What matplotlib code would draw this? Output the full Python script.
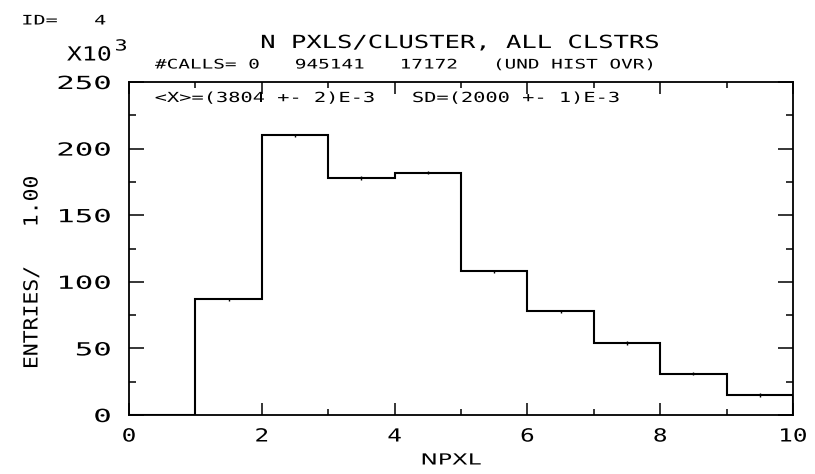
import matplotlib
matplotlib.use("Agg")
import matplotlib.pyplot as plt
import numpy as np
from matplotlib.patheffects import AbstractPathEffect
from matplotlib.transforms import Affine2D
from matplotlib.path import Path

# histogram contents (x10^3 entries per bin)
edges = [0, 1, 2, 3, 4, 5, 6, 7, 8, 9, 10]
counts = [0, 87, 210, 178, 182, 108, 78, 54, 31, 15]

title = "N PXLS/CLUSTER, ALL CLSTRS"
calls_line = "#CALLS= 0   945141   17172   (UND HIST OVR)"
stats_line = "<X>=(3804 +- 2)E-3   SD=(2000 +- 1)E-3"


class Stretch(AbstractPathEffect):
    # widen glyphs along the text direction, like the old stroke font
    def __init__(self, sx=1.0, width=None, anchor="left"):
        super().__init__()
        self.sx = sx
        self.width = width
        self.anchor = anchor

    def draw_path(self, renderer, gc, tpath, affine, rgbFace=None):
        v = tpath.vertices
        if tpath.codes is not None:
            v = v[tpath.codes != Path.CLOSEPOLY]
        x0, x1 = v[:, 0].min(), v[:, 0].max()
        sx = self.sx
        if self.width is not None:
            m = affine.get_matrix()
            sc = np.hypot(m[0, 0], m[1, 0])
            sx = self.width / ((x1 - x0) * sc)
        cx = {"left": x0, "center": (x0 + x1) / 2, "right": x1}[self.anchor]
        t = Affine2D().translate(-cx, 0).scale(sx, 1).translate(cx, 0) + affine
        renderer.draw_path(gc, tpath, t, rgbFace)


plt.rcParams["font.family"] = "DejaVu Sans Mono"

fig = plt.figure(figsize=(8.15, 4.74), dpi=100)
W, H = 815, 474
ax = fig.add_axes([129 / W, 1 - 415 / H, (793 - 129) / W, (415 - 82) / H])

ax.stairs(counts, edges, color="black", lw=1.5)
centers = np.array(edges[:-1]) + 0.5
ax.errorbar(centers[1:], counts[1:], yerr=1.2, fmt="none",
            ecolor="black", elinewidth=1.0, capsize=0)

ax.set_xlim(0, 10)
ax.set_ylim(0, 250)
ax.set_xticks(range(0, 11, 2))
ax.set_xticks(range(1, 10, 2), minor=True)
ax.set_yticks(range(0, 251, 50))
ax.set_yticks(range(25, 250, 50), minor=True)
ax.tick_params(which="both", direction="in", top=True, right=True,
               width=1.1, labelsize=13)
ax.tick_params(axis="x", which="major", length=8.5, pad=9)
ax.tick_params(axis="x", which="minor", length=4)
ax.tick_params(axis="y", which="major", length=11, pad=13)
ax.tick_params(axis="y", which="minor", length=5)
for s in ax.spines.values():
    s.set_linewidth(1.3)

for lab in ax.get_xticklabels():
    lab.set_path_effects([Stretch(sx=1.35, anchor="center")])
for lab in ax.get_yticklabels():
    lab.set_path_effects([Stretch(sx=1.7, anchor="right")])

fig.text(22 / W, 1 - 21 / H, "ID=   4", fontsize=9.5, va="center",
         path_effects=[Stretch(width=82)])
fig.text(67 / W, 1 - 55 / H, "X10", fontsize=14, va="center",
         path_effects=[Stretch(width=43)])
fig.text(115 / W, 1 - 46 / H, "3", fontsize=11, va="center",
         path_effects=[Stretch(width=10)])
fig.text(460 / W, 1 - 43 / H, title, fontsize=13, ha="center", va="center",
         path_effects=[Stretch(width=396, anchor="center")])
fig.text(155 / W, 1 - 65 / H, calls_line, fontsize=9.5, va="center",
         path_effects=[Stretch(width=497)])
fig.text(155 / W, 1 - 98 / H, stats_line, fontsize=10, va="center",
         path_effects=[Stretch(width=463)])
fig.text(32 / W, 1 - 272 / H, "ENTRIES/   1.00", fontsize=14,
         rotation=90, ha="center", va="center",
         path_effects=[Stretch(width=190, anchor="center")])
fig.text(451 / W, 1 - 460 / H, "NPXL", fontsize=11, family="DejaVu Sans",
         ha="center", va="center",
         path_effects=[Stretch(width=58, anchor="center")])

fig.savefig("out.png", dpi=100)
